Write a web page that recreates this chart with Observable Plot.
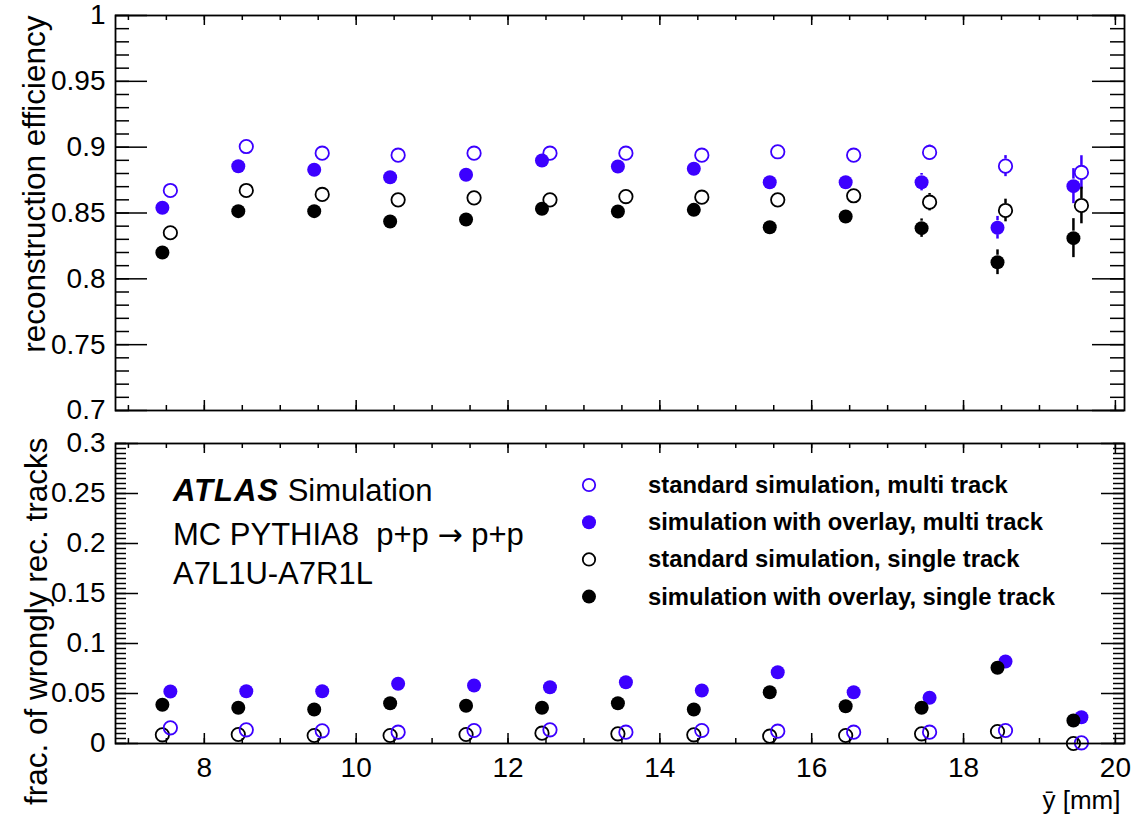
<!DOCTYPE html>
<html>
<head>
<meta charset="utf-8">
<script src="https://cdn.jsdelivr.net/npm/d3@7"></script>
<script src="https://cdn.jsdelivr.net/npm/@observablehq/plot@0.6"></script>
<style>
  html, body { margin: 0; padding: 0; background: #fff; }
  #chart { position: relative; width: 1137px; height: 816px; font-family: "Liberation Sans", Arial, Helvetica, sans-serif; }
  #chart > svg { position: absolute; left: 0; overflow: visible; }
</style>
</head>
<body>
<div id="chart"></div>
<script>
// ---------- data ----------
const xBins = [7.5, 8.5, 9.5, 10.5, 11.5, 12.5, 13.5, 14.5, 15.5, 16.5, 17.5, 18.5, 19.5];

// reconstruction efficiency
const effStdMulti   = [0.8671, 0.9005, 0.8954, 0.8939, 0.8954, 0.8954, 0.8954, 0.8939, 0.8965, 0.8939, 0.8960, 0.8856, 0.8808];
const effOvlMulti   = [0.8540, 0.8855, 0.8828, 0.8772, 0.8790, 0.8899, 0.8853, 0.8836, 0.8734, 0.8734, 0.8734, 0.8388, 0.8704];
const effStdSingle  = [0.8350, 0.8671, 0.8641, 0.8600, 0.8615, 0.8600, 0.8625, 0.8620, 0.8600, 0.8631, 0.8582, 0.8519, 0.8557];
const effOvlSingle  = [0.8200, 0.8514, 0.8514, 0.8435, 0.8451, 0.8532, 0.8511, 0.8524, 0.8392, 0.8473, 0.8385, 0.8126, 0.8309];
const errStdMulti   = [0.002, 0.002, 0.002, 0.002, 0.002, 0.002, 0.002, 0.002, 0.003, 0.003, 0.0056, 0.0080, 0.0127];
const errOvlMulti   = [0.002, 0.002, 0.002, 0.002, 0.002, 0.002, 0.002, 0.002, 0.003, 0.003, 0.0066, 0.0086, 0.0133];
const errStdSingle  = [0.002, 0.002, 0.002, 0.002, 0.002, 0.002, 0.002, 0.002, 0.003, 0.004, 0.0066, 0.0086, 0.0139];
const errOvlSingle  = [0.002, 0.002, 0.002, 0.002, 0.002, 0.002, 0.002, 0.002, 0.003, 0.004, 0.0070, 0.0094, 0.0148];

// fraction of wrongly reconstructed tracks
const fracStdMulti  = [0.0157, 0.0137, 0.0127, 0.0113, 0.0130, 0.0137, 0.0113, 0.0130, 0.0123, 0.0113, 0.0113, 0.0130, 0.0007];
const fracOvlMulti  = [0.0520, 0.0523, 0.0523, 0.0597, 0.0580, 0.0563, 0.0613, 0.0530, 0.0713, 0.0513, 0.0457, 0.0820, 0.0263];
const fracStdSingle = [0.0087, 0.0090, 0.0080, 0.0080, 0.0090, 0.0103, 0.0097, 0.0087, 0.0073, 0.0080, 0.0097, 0.0120, 0.0000];
const fracOvlSingle = [0.0387, 0.0357, 0.0340, 0.0403, 0.0377, 0.0357, 0.0403, 0.0340, 0.0513, 0.0373, 0.0357, 0.0757, 0.0230];

// axes
const xMajor = [8, 10, 12, 14, 16, 18, 20];
const effMajor = [0.7, 0.75, 0.8, 0.85, 0.9, 0.95, 1];
const fracMajor = [0, 0.05, 0.1, 0.15, 0.2, 0.25, 0.3];
const xDomain = [6.83, 20.12];
const effDomain = [0.7, 1];
const fracDomain = [0, 0.3];
const yLabelTop = "reconstruction efficiency";
const yLabelBottom = "frac. of wrongly rec. tracks";
const xLabel = "ȳ [mm]";
const legendLabels = [
  "standard simulation, multi track",
  "simulation with overlay, multi track",
  "standard simulation, single track",
  "simulation with overlay, single track"
];

// ---------- styling ----------
const BLUE = "#3c00ff";
const FONT = '"Liberation Sans", Arial, Helvetica, sans-serif';
const W = 1137;
const mL = 115, mR = 13;
const innerW = W - mL - mR;

const rows = (vals, errs) => xBins.map((x, i) => ({x, y: vals[i], err: errs ? errs[i] : 0}));

const xMinor = d3.range(7, 20.01, 0.5);
const effMinor = d3.range(0.7, 1.0001, 0.01);
const fracMinor = d3.range(0, 0.3001, 0.005);

function tickMarks(innerH, yMinor, yMajor, yMajLen, yMinLen) {
  return [
    Plot.tickX(xMinor, {x: d => d, insetTop: innerH - 5, stroke: "black", strokeWidth: 1.5}),
    Plot.tickX(xMinor, {x: d => d, insetBottom: innerH - 5, stroke: "black", strokeWidth: 1.5}),
    Plot.tickX(xMajor, {x: d => d, insetTop: innerH - 10, stroke: "black", strokeWidth: 1.5}),
    Plot.tickX(xMajor, {x: d => d, insetBottom: innerH - 10, stroke: "black", strokeWidth: 1.5}),
    Plot.tickY(yMinor, {y: d => d, insetRight: innerW - yMinLen, stroke: "black", strokeWidth: 1.5}),
    Plot.tickY(yMinor, {y: d => d, insetLeft: innerW - yMinLen, stroke: "black", strokeWidth: 1.5}),
    Plot.tickY(yMajor, {y: d => d, insetRight: innerW - yMajLen, stroke: "black", strokeWidth: 1.5}),
    Plot.tickY(yMajor, {y: d => d, insetLeft: innerW - yMajLen, stroke: "black", strokeWidth: 1.5})
  ];
}

// error bars drawn outside the marker (upper and lower halves)
function errorBars(data, color, dx) {
  const vis = data.filter(d => d.err > 0.0054);
  return [
    Plot.ruleX(vis, {x: "x", y1: d => d.y + d.err, y2: "y", dx, insetBottom: 7, stroke: color, strokeWidth: 2.5}),
    Plot.ruleX(vis, {x: "x", y1: "y", y2: d => d.y - d.err, dx, insetTop: 7, stroke: color, strokeWidth: 2.5})
  ];
}

const openDot = (data, color, dx) => Plot.dot(data, {x: "x", y: "y", dx, r: 6.7, stroke: color, strokeWidth: 1.8, fill: "none"});
const fullDot = (data, color, dx) => Plot.dot(data, {x: "x", y: "y", dx, r: 7, fill: color, stroke: "none"});

// ---------- top panel ----------
const topH = 430;
const topInner = topH - 15 - 20;
const tSM = rows(effStdMulti, errStdMulti);
const tOM = rows(effOvlMulti, errOvlMulti);
const tSS = rows(effStdSingle, errStdSingle);
const tOS = rows(effOvlSingle, errOvlSingle);

const topPlot = Plot.plot({
  width: W, height: topH,
  marginLeft: mL, marginRight: mR, marginTop: 15, marginBottom: 20,
  style: {fontFamily: FONT, background: "transparent", color: "black", overflow: "visible"},
  x: {domain: xDomain, axis: null},
  y: {domain: effDomain, axis: null},
  marks: [
    ...tickMarks(topInner, effMinor, effMajor, 32, 14),
    Plot.axisY({ticks: effMajor, tickSize: 0, tickPadding: 10, fontSize: 28, tickFormat: d => String(d), label: null}),
    Plot.text([yLabelTop], {text: d => d, frameAnchor: "top-left", rotate: -90, textAnchor: "end", dx: -93, fontSize: 31.5}),
    ...errorBars(tSM, BLUE, 4),
    ...errorBars(tSS, "black", 4),
    ...errorBars(tOM, BLUE, -4),
    ...errorBars(tOS, "black", -4),
    openDot(tSM, BLUE, 4),
    openDot(tSS, "black", 4),
    fullDot(tOM, BLUE, -4),
    fullDot(tOS, "black", -4),
    Plot.frame({stroke: "black", strokeWidth: 1.8})
  ]
});
topPlot.style.top = "0px";

// ---------- bottom panel ----------
const botTop = 415, botH = 401;
const botMT = 28, botMB = 73;
const botInner = botH - botMT - botMB;
const bSM = rows(fracStdMulti);
const bOM = rows(fracOvlMulti);
const bSS = rows(fracStdSingle);
const bOS = rows(fracOvlSingle);

const bottomPlot = Plot.plot({
  width: W, height: botH,
  marginLeft: mL, marginRight: mR, marginTop: botMT, marginBottom: botMB,
  style: {fontFamily: FONT, background: "transparent", color: "black", overflow: "visible"},
  x: {domain: xDomain, axis: null},
  y: {domain: fracDomain, axis: null},
  marks: [
    ...tickMarks(botInner, fracMinor, fracMajor, 23, 11),
    Plot.axisY({ticks: fracMajor, tickSize: 0, tickPadding: 10, fontSize: 28, tickFormat: d => String(d), label: null}),
    Plot.axisX({ticks: xMajor, tickSize: 0, tickPadding: 14, fontSize: 28, tickFormat: d => String(d), label: null}),
    Plot.text([yLabelBottom], {text: d => d, frameAnchor: "top-left", rotate: -90, textAnchor: "end", dx: -91, dy: -6, fontSize: 31.5}),
    Plot.text([xLabel], {text: d => d, frameAnchor: "bottom-right", textAnchor: "end", lineAnchor: "bottom", dx: -4, dy: 65, fontSize: 26}),
    openDot(bSS, "black", -4),
    openDot(bSM, BLUE, 4),
    fullDot(bOM, BLUE, 4),
    fullDot(bOS, "black", -4),
    Plot.frame({stroke: "black", strokeWidth: 1.8})
  ]
});
bottomPlot.style.top = botTop + "px";

const chart = document.getElementById("chart");
chart.appendChild(topPlot);
chart.appendChild(bottomPlot);

// ---------- annotations & legend overlay ----------
const ov = d3.select(chart).append("svg")
  .attr("width", W).attr("height", 816)
  .style("position", "absolute").style("left", "0px").style("top", "0px")
  .style("font-family", FONT);

const atlas = ov.append("text").attr("x", 173).attr("y", 501).attr("font-size", 31);
atlas.append("tspan").attr("font-weight", "bold").attr("font-style", "italic").attr("letter-spacing", 1).text("ATLAS");
atlas.append("tspan").text(" Simulation");
const mc = ov.append("text").attr("x", 173).attr("y", 545).attr("font-size", 31).attr("xml:space", "preserve");
mc.append("tspan").text("MC PYTHIA8  p+p ");
mc.append("tspan").attr("font-family", '"DejaVu Sans", sans-serif').attr("font-size", 30).text("\u2192");
mc.append("tspan").text(" p+p");
ov.append("text").attr("x", 173).attr("y", 584).attr("font-size", 31).text("A7L1U-A7R1L");

const legStyles = [
  {fill: "none", stroke: BLUE},
  {fill: BLUE, stroke: "none"},
  {fill: "none", stroke: "black"},
  {fill: "black", stroke: "none"}
];
legendLabels.forEach((lab, i) => {
  const cy = 485 + i * 37.2;
  ov.append("circle").attr("cx", 589).attr("cy", cy)
    .attr("r", legStyles[i].fill === "none" ? 6.2 : 7)
    .attr("fill", legStyles[i].fill).attr("stroke", legStyles[i].stroke).attr("stroke-width", 1.8);
  ov.append("text").attr("x", 648).attr("y", cy + 8).attr("font-size", 23.8).attr("font-weight", "bold").text(lab);
});
</script>
</body>
</html>
